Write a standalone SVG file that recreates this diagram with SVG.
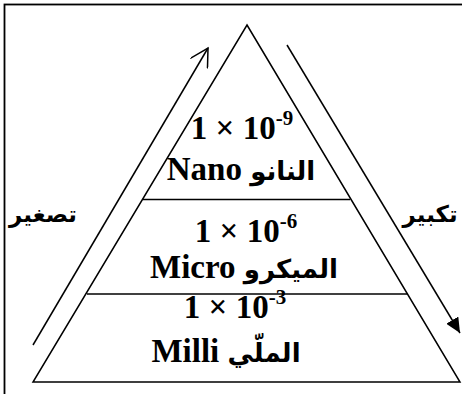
<svg xmlns="http://www.w3.org/2000/svg" width="462" height="394" viewBox="0 0 462 394">
<defs>
<marker id="open" markerWidth="20" markerHeight="20" refX="18" refY="10" orient="auto" markerUnits="userSpaceOnUse">
<path d="M0,0 L18,10 L0,20" fill="none" stroke="#000" stroke-width="1.5"/>
</marker>
<marker id="filled" markerWidth="16" markerHeight="14" refX="15" refY="7" orient="auto" markerUnits="userSpaceOnUse">
<path d="M0,0 L15,7 L0,14 Z" fill="#000"/>
</marker>
</defs>
<style>
.ln{stroke:#000;stroke-width:1.5;fill:none}
.t{font-family:"Liberation Serif","DejaVu Serif","DejaVu Sans",serif;font-weight:bold;font-size:33px;fill:#000;text-anchor:middle}
.s{font-size:21px}
.ar{font-family:"DejaVu Sans",sans-serif;font-size:26px}
.a{font-family:"DejaVu Sans","Liberation Sans",sans-serif;font-weight:bold;font-size:23px;fill:#000;text-anchor:middle}
</style>
<rect x="4.5" y="4.5" width="470" height="400" fill="#fff" stroke="#000" stroke-width="1.8"/>
<g id="pyramid">
<path class="ln" d="M247,25 L460,382 L33,382 Z"/>
<line class="ln" x1="143" y1="199.5" x2="350" y2="199.5"/>
<line class="ln" x1="87" y1="294" x2="408" y2="294"/>
</g>
<g id="nano">
<text class="t" x="242" y="139">1 × 10<tspan class="s" dy="-14">-9</tspan></text>
<text class="t" x="241" y="180">Nano <tspan class="ar">النانو</tspan></text>
</g>
<g id="micro">
<text class="t" x="246" y="242">1 × 10<tspan class="s" dy="-14">-6</tspan></text>
<text class="t" x="244" y="278">Micro <tspan class="ar">الميكرو</tspan></text>
</g>
<g id="milli">
<text class="t" x="235" y="318">1 × 10<tspan class="s" dy="-14">-3</tspan></text>
<text class="t" x="226" y="362">Milli <tspan class="ar">الملّي</tspan></text>
</g>
<g id="connectors">
<line class="ln" x1="33" y1="345" x2="208" y2="48" marker-end="url(#open)"/>
<line class="ln" x1="287" y1="45" x2="460" y2="333" marker-end="url(#filled)"/>
</g>
<g id="labels">
<text class="a" x="43" y="222">تصغير</text>
<text class="a" x="430" y="222">تكبير</text>
</g>
</svg>
